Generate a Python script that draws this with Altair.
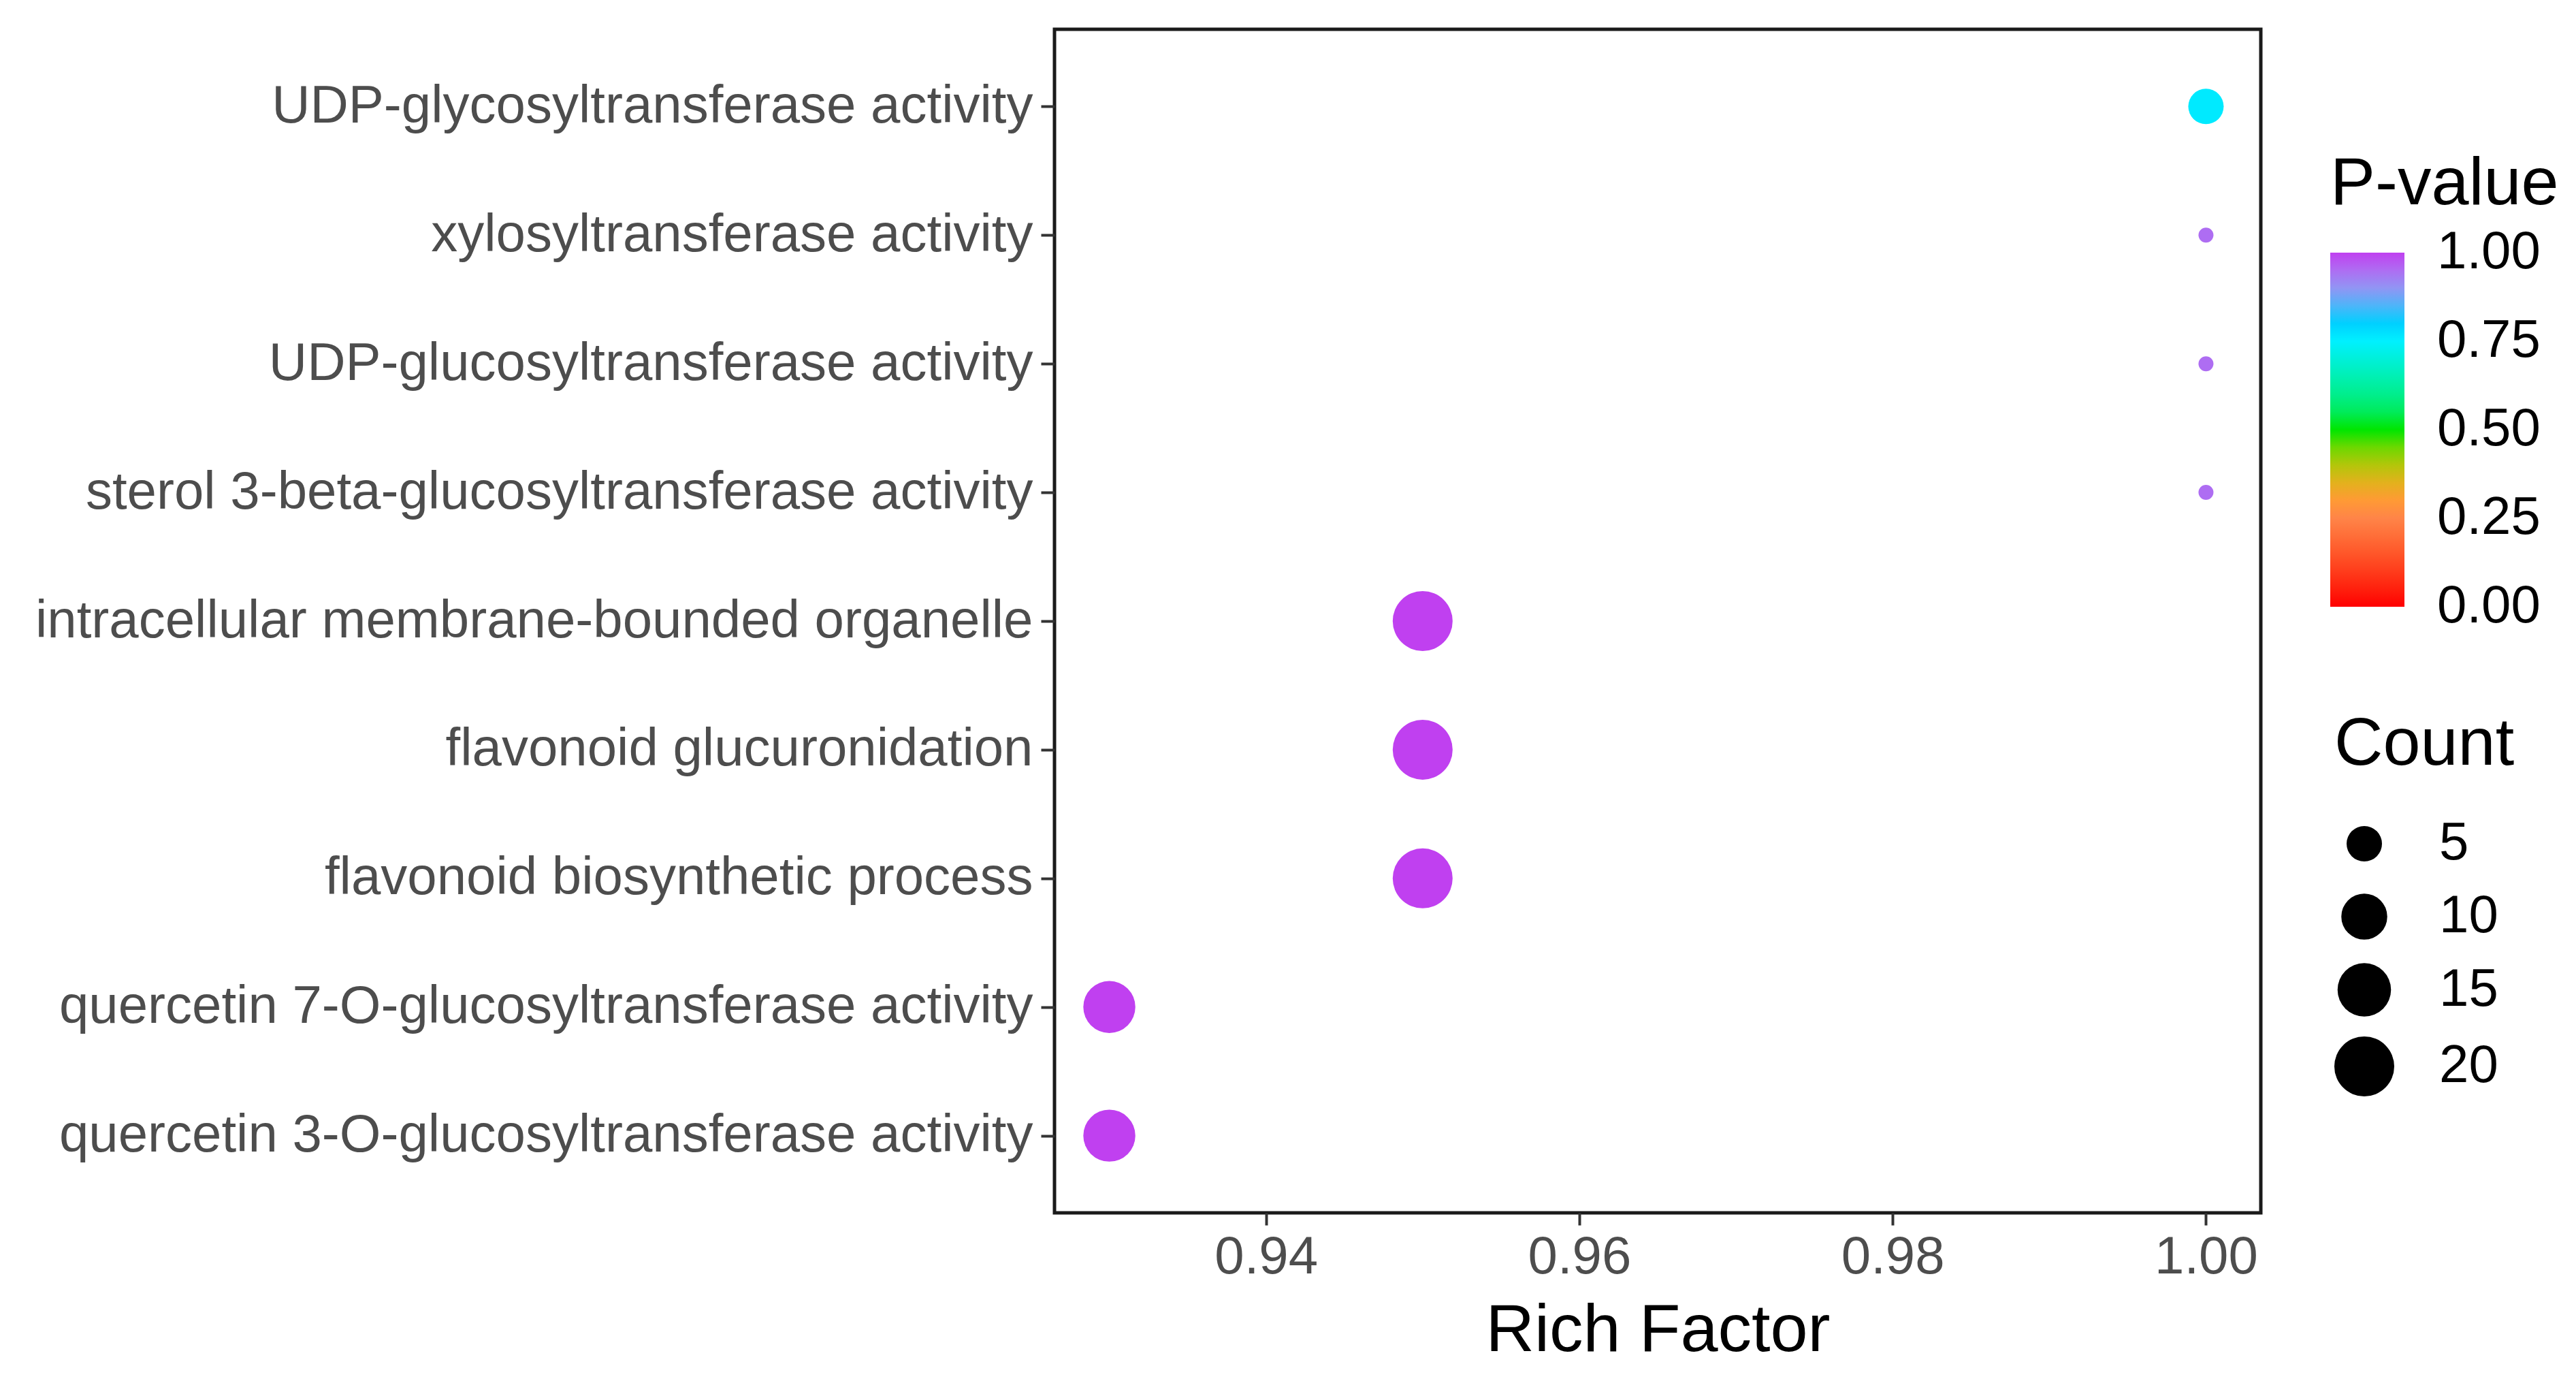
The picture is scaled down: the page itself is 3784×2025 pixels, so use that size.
import altair as alt
import pandas as pd

terms = [
    "UDP-glycosyltransferase activity",
    "xylosyltransferase activity",
    "UDP-glucosyltransferase activity",
    "sterol 3-beta-glucosyltransferase activity",
    "intracellular membrane-bounded organelle",
    "flavonoid glucuronidation",
    "flavonoid biosynthetic process",
    "quercetin 7-O-glucosyltransferase activity",
    "quercetin 3-O-glucosyltransferase activity",
]
rich_factor = [1.00, 1.00, 1.00, 1.00, 0.95, 0.95, 0.95, 0.93, 0.93]
counts = [5, 1, 1, 1, 20, 20, 20, 14, 14]
p_values = [0.76, 0.95, 0.95, 0.95, 1.00, 1.00, 1.00, 1.00, 1.00]

x_ticks = [0.94, 0.96, 0.98, 1.00]
# legend break positions (ends nudged inside so the labels stay centred on them)
p_ticks = [0.0001, 0.25, 0.50, 0.75, 0.9999]
count_ticks = [5, 10, 15, 20]

# colour gradient (P-value legend), evenly spaced stops from 0 to 1
grad_colors = ["#ff0000", "#ff2810", "#ff4a22", "#ff6834", "#ff8448", "#ffa030",
               "#d0bc10", "#88d400", "#00e600", "#00ec70", "#00f0a0", "#00f0d0",
               "#00f0ff", "#00c8ff", "#80a8f5", "#aa78f2", "#c040f0"]

# size scale (count -> symbol area), diameters
size_domain = [1, 5, 10, 15, 20]
size_range = [22 ** 2, 52 ** 2, 67.5 ** 2, 78.5 ** 2, 88 ** 2]

df = pd.DataFrame({"term": terms, "rf": rich_factor, "count": counts, "p": p_values})

FONT = "Liberation Sans"
PLOT_W, PLOT_H = 1772, 1738
PAD_L, PAD_T = 1541, 35
PAD_R = 3768 - PAD_L - PLOT_W
PAD_B = 2009 - PAD_T - PLOT_H

chart = alt.Chart(df).mark_circle(opacity=1, strokeWidth=0).encode(
    x=alt.X("rf:Q",
            title="Rich Factor",
            scale=alt.Scale(domain=[0.9265, 1.0035], nice=False, zero=False),
            axis=alt.Axis(values=x_ticks, format=".2f", labelFontSize=78,
                          labelColor="#4d4d4d", labelFont=FONT, labelPadding=8,
                          tickSize=18, tickWidth=4, tickColor="#333333",
                          titleFontSize=99, titleFont=FONT, titleFontWeight="normal",
                          titleColor="#000000", titlePadding=20, domain=False,
                          grid=False, labelFlush=False)),
    y=alt.Y("term:N", sort=terms, title=None,
            scale=alt.Scale(type="point", padding=0.6),
            axis=alt.Axis(labelFontSize=78, labelColor="#4d4d4d", labelFont=FONT,
                          labelPadding=12, tickSize=20, tickWidth=4,
                          tickColor="#333333", domain=False, grid=False,
                          labelLimit=3000)),
    color=alt.Color("p:Q",
                    scale=alt.Scale(domain=[0, 1], range=grad_colors,
                                    interpolate="rgb"),
                    legend=alt.Legend(title="P-value", orient="none",
                                      legendX=1874, legendY=179,
                                      direction="vertical", gradientLength=520,
                                      gradientThickness=109, gradientStrokeWidth=0,
                                      values=p_ticks, format=".2f",
                                      labelFontSize=78, labelFont=FONT,
                                      labelColor="#000000", labelOffset=48,
                                      labelOverlap=False,
                                      titleFontSize=99, titleFont=FONT,
                                      titleFontWeight="normal", titleColor="#000000",
                                      titlePadding=50, titleLimit=2000)),
    size=alt.Size("count:Q",
                  scale=alt.Scale(domain=size_domain, range=size_range),
                  legend=alt.Legend(title="Count", orient="none",
                                    legendX=1880, legendY=1002,
                                    values=count_ticks, symbolType="circle",
                                    symbolFillColor="#000000",
                                    symbolStrokeColor="#000000",
                                    symbolStrokeWidth=0, symbolOpacity=1,
                                    rowPadding=29, labelOffset=66,
                                    labelFontSize=78, labelFont=FONT,
                                    labelColor="#000000",
                                    titleFontSize=99, titleFont=FONT,
                                    titleFontWeight="normal", titleColor="#000000",
                                    titlePadding=56, titleLimit=2000)),
).properties(
    width=PLOT_W, height=PLOT_H,
    autosize=alt.AutoSizeParams(type="none"),
    padding={"left": PAD_L, "top": PAD_T, "right": PAD_R, "bottom": PAD_B},
    background="white",
).configure_view(stroke="#1a1a1a", strokeWidth=5)

chart.save("out.html", embed_options={"renderer": "svg", "actions": False})
